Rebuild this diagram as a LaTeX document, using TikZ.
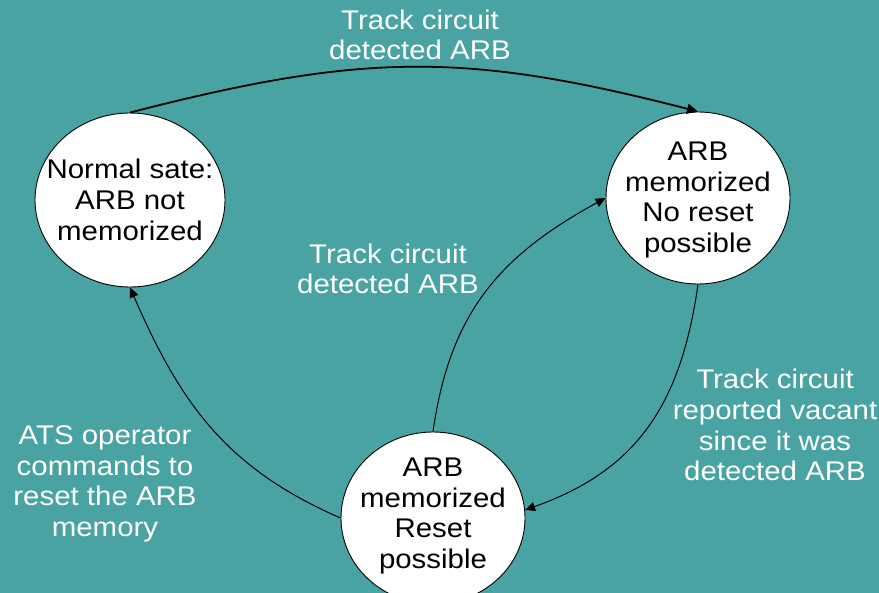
\documentclass[tikz,border=0pt]{standalone}
\usepackage{fontspec}
\setmainfont{Liberation Sans}[FakeStretch=1.09]
\usetikzlibrary{shapes.geometric,arrows.meta}
\definecolor{bg}{RGB}{73,163,162}
\begin{document}
\begin{tikzpicture}[x=1pt,y=-1pt,
  state/.style={ellipse, draw=black, line width=0.9pt, fill=white, inner sep=0pt},
  statetext/.style={align=center, inner sep=0pt, text=black, font=\fontsize{27}{30.7}\selectfont},
  edgetext/.style={align=center, inner sep=0pt, text=white, font=\fontsize{27}{30.7}\selectfont},
  conn/.style={line width=1pt, -{Triangle[length=10pt,width=9pt]}},
  bigconn/.style={line width=1.8pt, -{Triangle[length=11pt,width=10pt]}}]
\fill[bg] (0,0) rectangle (879,593);
\useasboundingbox (0,0) rectangle (879,593);
% states
\node[state, minimum width=190pt, minimum height=174pt] (a) at (130,200) {};
\node[state, minimum width=184pt, minimum height=172pt] (c) at (698,198) {};
\node[state, minimum width=184pt, minimum height=172pt] (b) at (433,518) {};
\node[statetext] (at) at (130,200) {Normal sate:\\ARB not\\memorized};
\node[statetext] (ct) at (698,200) {ARB\\memorized\\No reset\\possible};
\node[statetext] (bt) at (433,516) {ARB\\memorized\\Reset\\possible};
% connectors
\draw[bigconn] (a.north) .. controls +(233,-60) and +(-233,-60) .. (c.north);
\draw[conn] (b.west) .. controls +(-115,-50) and +(50,115) .. (a.south);
\draw[conn] (b.north) .. controls +(17,-119) and +(-106,58) .. (c.west);
\draw[conn] (c.south) .. controls +(-17,119) and +(113,-40) .. (b.5);
% labels
\node[edgetext] (l1) at (420,35) {Track circuit\\detected ARB};
\node[edgetext] (l2) at (388,269) {Track circuit\\detected ARB};
\node[edgetext] (l3) at (105,484) {ATS operator\\commands to\\reset the ARB\\memory};
\node[edgetext] (l4) at (775,425) {Track circuit\\reported vacant\\since it was\\detected ARB};
\end{tikzpicture}
\end{document}
